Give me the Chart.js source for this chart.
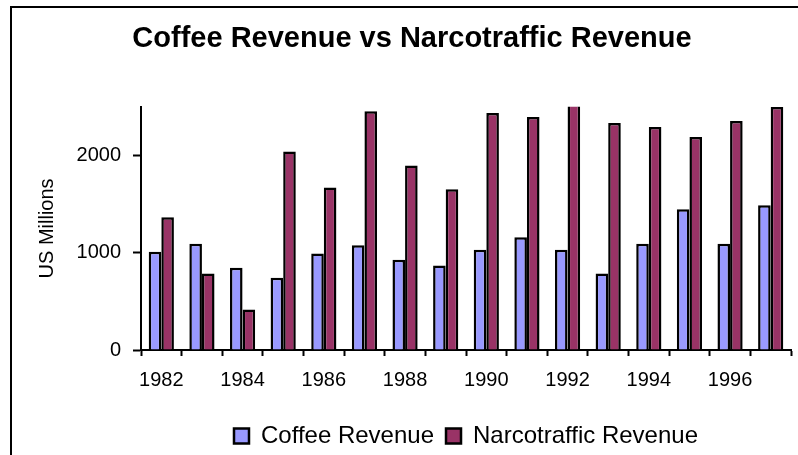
<!DOCTYPE html>
<html>
<head>
<meta charset="utf-8">
<script src="https://cdn.jsdelivr.net/npm/chart.js@4.4.1/dist/chart.umd.min.js"></script>
<style>
  html, body { margin: 0; padding: 0; background: #fff; }
  #wrap { width: 798px; height: 455px; }
</style>
</head>
<body>
<div id="wrap"><canvas id="revenueChart" width="798" height="455"></canvas></div>
<script>
const years = ['1982', '1983', '1984', '1985', '1986', '1987', '1988', '1989',
               '1990', '1991', '1992', '1993', '1994', '1995', '1996', '1997'];
const coffeeRevenue = [1010, 1093, 845, 742, 993, 1076, 928, 869,
                       1031, 1158, 1031, 787, 1093, 1447, 1093, 1488];
const narcoRevenue = [1364, 787, 416, 2041, 1670, 2454, 1897, 1653,
                      2436, 2395, 2600, 2333, 2292, 2189, 2354, 2498];
const yTicks = [0, 1000, 2000];

const FONT = 'Liberation Sans, Arial, sans-serif';

// frame round the whole chart, cut off at the right and bottom like the original
const framePlugin = {
    id: 'frame',
    beforeDraw(chart) {
        const c = chart.ctx;
        c.save();
        c.fillStyle = '#fff';
        c.fillRect(0, 0, chart.width, chart.height);
        c.strokeStyle = '#000';
        c.lineWidth = 2;
        c.beginPath();
        c.moveTo(11, chart.height + 5);
        c.lineTo(11, 7);
        c.lineTo(chart.width + 5, 7);
        c.stroke();
        c.restore();
    }
};

const ctx = document.getElementById('revenueChart').getContext('2d');
const myChart = new Chart(ctx, {
    type: 'bar',
    data: {
        labels: years,
        datasets: [{
            label: 'Coffee Revenue',
            data: coffeeRevenue,
            backgroundColor: '#9999FF',
            borderColor: '#000',
            borderWidth: 2.5
        }, {
            label: 'Narcotraffic Revenue',
            data: narcoRevenue,
            backgroundColor: '#993366',
            borderColor: '#000',
            borderWidth: 2.5
        }]
    },
    plugins: [framePlugin],
    options: {
        responsive: false,
        animation: false,
        layout: { padding: { top: 10, left: 33, right: 7, bottom: -3 } },
        datasets: {
            bar: { categoryPercentage: 0.62, barPercentage: 1.0 }
        },
        plugins: {
            title: {
                display: true,
                text: 'Coffee Revenue vs Narcotraffic Revenue',
                color: '#000',
                font: { family: FONT, size: 29, weight: 'bold' },
                padding: { top: 12, bottom: 50 }
            },
            legend: {
                position: 'bottom',
                fullSize: false,
                labels: {
                    color: '#000',
                    boxWidth: 15,
                    boxHeight: 15,
                    padding: 12,
                    font: { family: FONT, size: 24 }
                }
            },
            tooltip: { enabled: false }
        },
        scales: {
            x: {
                grid: {
                    offset: true,
                    drawOnChartArea: false,
                    drawTicks: true,
                    tickLength: 6,
                    tickColor: '#000',
                    tickWidth: 2
                },
                border: { color: '#000', width: 2 },
                ticks: {
                    autoSkip: false,
                    maxRotation: 0,
                    color: '#000',
                    padding: 12,
                    font: { family: FONT, size: 20 },
                    callback: function(value, index) {
                        return index % 2 === 0 ? this.getLabelForValue(value) : '';
                    }
                },
                afterFit: (axis) => { axis.height = 62; }
            },
            y: {
                min: 0,
                max: 2500,
                grid: {
                    drawOnChartArea: false,
                    drawTicks: true,
                    tickLength: 8,
                    tickColor: '#000',
                    tickWidth: 2
                },
                border: { color: '#000', width: 2 },
                ticks: {
                    color: '#000',
                    padding: 12,
                    font: { family: FONT, size: 20 },
                    callback: (value) => String(value)
                },
                afterBuildTicks: (axis) => { axis.ticks = yTicks.map(v => ({ value: v })); },
                title: {
                    display: true,
                    text: 'US Millions',
                    color: '#000',
                    font: { family: FONT, size: 20 },
                    padding: { top: 2, bottom: 0 }
                },
                afterFit: (axis) => { axis.width = 108; }
            }
        }
    }
});
</script>
</body>
</html>
